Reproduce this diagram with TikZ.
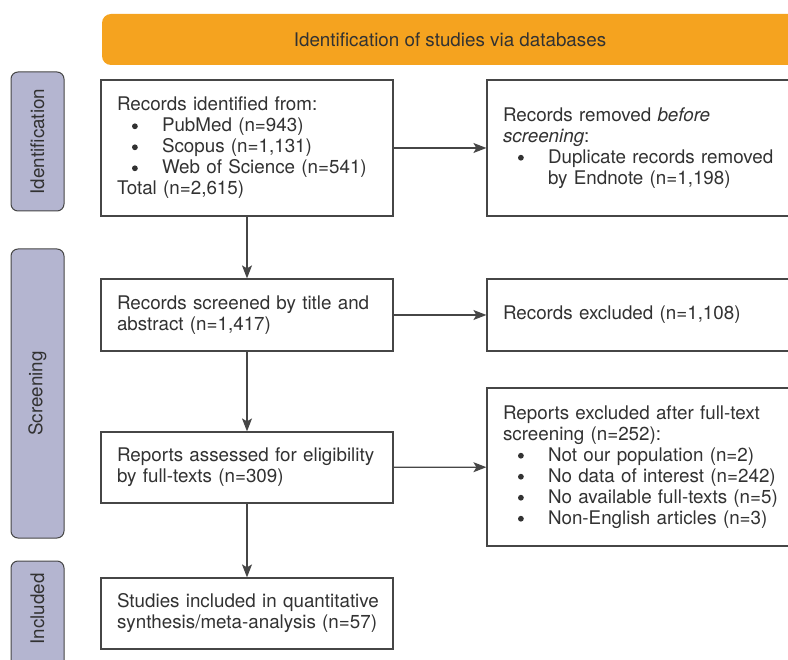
\documentclass[tikz,border=0pt]{standalone}
\usepackage{fontspec}
\setmainfont{TeX Gyre Heros}
\usetikzlibrary{arrows.meta}
\definecolor{banner}{RGB}{245,163,31}
\definecolor{lav}{RGB}{180,181,208}
\definecolor{ink}{RGB}{50,50,50}
\definecolor{edge}{RGB}{70,70,70}
\newcommand\bul[1]{\hspace*{15pt}\makebox[30pt][l]{\tikz[baseline=0pt]\fill[ink] (3pt,5.6pt) circle[radius=2.9pt];}#1}
\tikzset{
  every node/.style={font=\fontsize{18.8}{21}\selectfont, text=ink},
  lbox/.style={draw=edge, line width=1.2pt, fill=white, align=left, text width=260pt, inner xsep=16pt, inner ysep=0pt, minimum width=292pt},
  rbox/.style={draw=edge, line width=1.2pt, fill=white, align=left, text width=300pt, inner xsep=16pt, inner ysep=0pt, minimum width=332pt},
  phase/.style={draw=edge, line width=1pt, fill=lav, rounded corners=7pt, minimum width=53pt, inner sep=0pt},
  flow/.style={draw=edge, line width=1.2pt, -{Stealth[length=13pt,width=10pt,inset=3pt]}}
}
\begin{document}
\begin{tikzpicture}[x=1pt,y=-1pt]
\useasboundingbox (0,0) rectangle (788,660);
\clip (0,0) rectangle (788,660);
% banner
\node[fill=banner, rounded corners=9pt, minimum width=696pt, minimum height=51pt, inner sep=0pt] (ban) at (450,39.5) {Identification of studies via databases};
% phase labels
\node[phase, minimum height=139pt] (pid) at (37.5,141.5) {};
\node[rotate=90] (tid) at (pid.center) {Identification};
\node[phase, minimum height=289pt] (psc) at (37.5,393.5) {};
\node[rotate=90] (tsc) at (psc.center) {Screening};
\node[phase, minimum height=140pt] (pin) at (37.5,631) {};
\node[rotate=90] (tin) at (37.5,609) {Included};
% left boxes
\node[lbox, minimum height=136pt] (b1) at (247,148) {Records identified from:\\
\bul{PubMed (n=943)}\\
\bul{Scopus (n=1,131)}\\
\bul{Web of Science (n=541)}\\
Total (n=2,615)};
\node[lbox, minimum height=72pt] (b2) at (247,315) {\mbox{Records screened by title and}\\abstract (n=1,417)};
\node[lbox, minimum height=71pt] (b3) at (247,467.5) {\mbox{Reports assessed for eligibility}\\by full-texts (n=309)};
\node[lbox, minimum height=71pt] (b4) at (247,613.5) {\mbox{Studies included in quantitative}\\\mbox{synthesis/meta-analysis (n=57)}};
% right boxes
\node[rbox, minimum height=136pt] (r1) at (653,148) {Records removed \textit{before}\\\textit{screening}:\\
\bul{Duplicate records removed}\\
\hspace*{45pt}by Endnote (n=1,198)};
\node[rbox, minimum height=72pt] (r2) at (653,315) {Records excluded (n=1,108)};
\node[rbox, minimum height=158pt] (r3) at (653,467) {Reports excluded after full-text\\screening (n=252):\\
\bul{Not our population (n=2)}\\
\bul{No data of interest (n=242)}\\
\bul{No available full-texts (n=5)}\\
\bul{Non-English articles (n=3)}};
% connectors
\draw[flow] (b1) -- (r1);
\draw[flow] (b2) -- (r2);
\draw[flow] (b3) -- (r3);
\draw[flow] (b1) -- (b2);
\draw[flow] (b2) -- (b3);
\draw[flow] (b3) -- (b4);
\end{tikzpicture}
\end{document}
